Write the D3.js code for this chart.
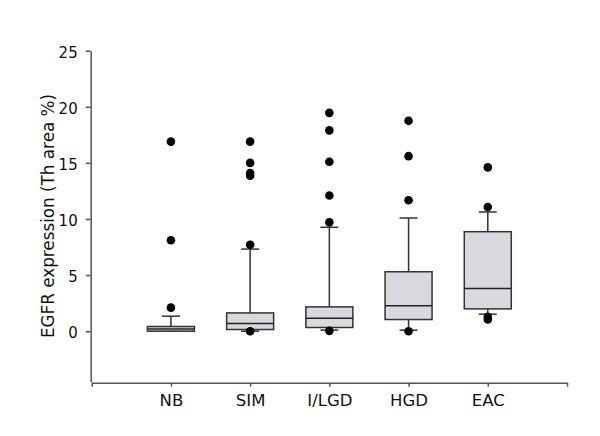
<!DOCTYPE html>
<html>
<head>
<meta charset="utf-8">
<script src="https://cdn.jsdelivr.net/npm/d3@7/dist/d3.min.js"></script>
<style>
  html, body { margin: 0; padding: 0; background: #fff; }
  svg { display: block; }
  text { font-family: "DejaVu Sans", Verdana, sans-serif; fill: #111; }
</style>
</head>
<body>
<svg id="chart" width="600" height="436"></svg>
<script>
const categories = ["NB", "SIM", "I/LGD", "HGD", "EAC"];
const whiskerLow  = [0,    0,    0.1,  0.09, 1.52];
const q1          = [0,    0.15, 0.33, 1.04, 1.99];
const median      = [0.2,  0.69, 1.16, 2.26, 3.81];
const q3          = [0.42, 1.63, 2.17, 5.3,  8.87];
const whiskerHigh = [1.34, 7.32, 9.26, 10.09, 10.63];
const outliers = [
  [16.9, 8.1, 2.1],
  [16.9, 15.0, 14.1, 13.85, 7.7, 0],
  [19.46, 17.9, 15.1, 12.1, 9.7, 0.03],
  [18.75, 15.6, 11.67, 0],
  [14.6, 11.07, 1.28, 1.04]
];
const yTicks = [0, 5, 10, 15, 20, 25];
const yLabel = "EGFR expression (Th area %)";

const svg = d3.select("#chart");
const x = d3.scaleLinear().domain([0, categories.length + 1]).range([91.7, 567]);
const y = d3.scaleLinear().domain([-4.5, 25]).range([381.7, 50.7]);

const axisColor = "#555";

// Y axis
const yAxis = svg.append("g").attr("transform", "translate(90.7,0)")
  .call(d3.axisLeft(y).tickValues(yTicks).tickSize(5).tickSizeOuter(0).tickPadding(8).tickFormat(d3.format("d")));
yAxis.selectAll("path, line").attr("stroke", axisColor).attr("stroke-width", 1.5);
yAxis.selectAll("text").style("font-size", "15px").attr("fill", "#111").attr("dy", "0.45em");

// X axis
const xAxis = svg.append("g").attr("transform", "translate(0,382.7)")
  .call(d3.axisBottom(x).tickValues(d3.range(0, categories.length + 2)).tickSize(4).tickSizeOuter(0).tickPadding(8)
    .tickFormat(i => categories[i - 1] || ""));
xAxis.selectAll("path, line").attr("stroke", axisColor).attr("stroke-width", 1.5);
xAxis.selectAll("text").style("font-size", "16.5px").attr("fill", "#111");

// Y label
svg.append("text")
  .attr("transform", "translate(53.5,216) rotate(-90)")
  .attr("text-anchor", "middle")
  .style("font-size", "16.8px")
  .text(yLabel);

const boxW = 47;
const capW = 18;
const stroke = "#333";

const g = svg.append("g");
categories.forEach((c, i) => {
  const cx = x(i + 1);
  // whiskers
  g.append("line").attr("x1", cx).attr("x2", cx).attr("y1", y(whiskerHigh[i])).attr("y2", y(q3[i]))
    .attr("stroke", stroke).attr("stroke-width", 1.5);
  g.append("line").attr("x1", cx).attr("x2", cx).attr("y1", y(q1[i])).attr("y2", y(whiskerLow[i]))
    .attr("stroke", stroke).attr("stroke-width", 1.5);
  g.append("line").attr("x1", cx - capW / 2).attr("x2", cx + capW / 2).attr("y1", y(whiskerHigh[i])).attr("y2", y(whiskerHigh[i]))
    .attr("stroke", stroke).attr("stroke-width", 1.5);
  g.append("line").attr("x1", cx - capW / 2).attr("x2", cx + capW / 2).attr("y1", y(whiskerLow[i])).attr("y2", y(whiskerLow[i]))
    .attr("stroke", stroke).attr("stroke-width", 1.5);
  // box
  g.append("rect").attr("x", cx - boxW / 2).attr("width", boxW)
    .attr("y", y(q3[i])).attr("height", y(q1[i]) - y(q3[i]))
    .attr("fill", "#d8d8de").attr("stroke", stroke).attr("stroke-width", 1.5);
  g.append("line").attr("x1", cx - boxW / 2).attr("x2", cx + boxW / 2).attr("y1", y(median[i])).attr("y2", y(median[i]))
    .attr("stroke", "#222").attr("stroke-width", 1.5);
  // outliers
  g.selectAll(null).data(outliers[i]).enter().append("circle")
    .attr("cx", cx).attr("cy", d => y(d)).attr("r", 4.3).attr("fill", "#000");
});
</script>
</body>
</html>
